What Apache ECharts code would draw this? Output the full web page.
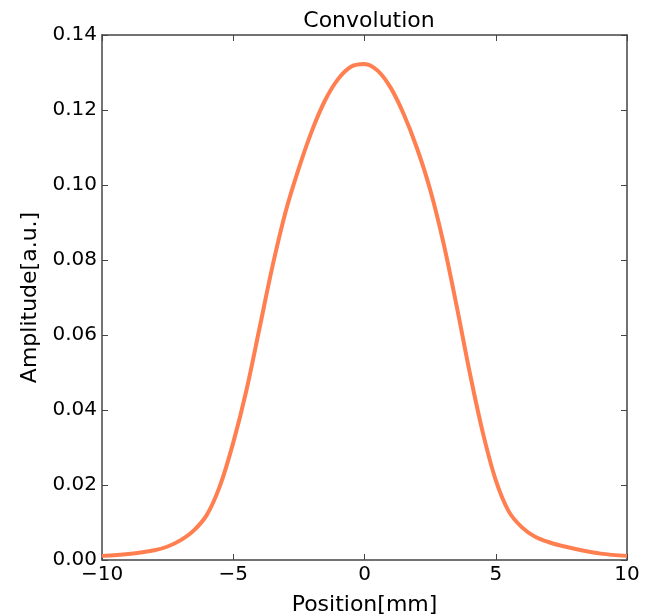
<!DOCTYPE html>
<html>
<head>
<meta charset="utf-8">
<script src="https://cdn.jsdelivr.net/npm/echarts@6/dist/echarts.min.js"></script>
<style>
  html, body { margin: 0; padding: 0; background: #fff; }
  #chart { width: 662px; height: 616px; }
</style>
</head>
<body>
<div id="chart"></div>
<script>
const positions = [-10, -9, -8, -7.5, -7, -6.5, -6, -5.5, -5, -4.5, -4, -3.5, -3, -2.5, -2, -1.5, -1, -0.5,
  0, 0.5, 1, 1.5, 2, 2.5, 3, 3.5, 4, 4.5, 5, 5.5, 6, 6.5, 7, 7.5, 8, 9, 10];
// Amplitude [a.u.]
const amplitude = [0.0011, 0.0016, 0.0026, 0.0036, 0.0053, 0.0079, 0.0121, 0.0199, 0.0313, 0.0452, 0.0618, 0.0785, 0.0930, 0.1045, 0.1145, 0.1226, 0.1283, 0.1316,
  0.1323, 0.1305, 0.1259, 0.1188, 0.1098, 0.0988, 0.0848, 0.0681, 0.0503, 0.0342, 0.0213, 0.0129, 0.0087, 0.0062, 0.0048, 0.0038, 0.0030, 0.0017, 0.0011];
const xTicks = [-10, -5, 0, 5, 10];
const yTicks = [0, 0.02, 0.04, 0.06, 0.08, 0.10, 0.12, 0.14];

const data = positions.map((x, i) => [x, amplitude[i]]);
const font = 'DejaVu Sans';
const axisColor = '#444';

const chart = echarts.init(document.getElementById('chart'), null, { renderer: 'canvas' });
const xBase = {
  type: 'value', min: xTicks[0], max: xTicks[xTicks.length - 1], interval: 5,
  axisLine: { show: true, onZero: false, lineStyle: { color: axisColor, width: 1.5 } },
  axisTick: { show: true, inside: true, length: 6, lineStyle: { color: axisColor, width: 1 } },
  splitLine: { show: false }
};
const yBase = {
  type: 'value', min: yTicks[0], max: yTicks[yTicks.length - 1], interval: 0.02,
  axisLine: { show: true, onZero: false, lineStyle: { color: axisColor, width: 1.5 } },
  axisTick: { show: true, inside: true, length: 6, lineStyle: { color: axisColor, width: 1 } },
  splitLine: { show: false }
};
chart.setOption({
  backgroundColor: '#fff',
  animation: false,
  title: {
    text: 'Convolution', left: 364, top: 5, textAlign: 'center',
    textStyle: { fontFamily: font, fontSize: 22, fontWeight: 'normal', color: '#000' }
  },
  grid: { left: 102, right: 35, top: 35, bottom: 56, containLabel: false, outerBoundsMode: 'none' },
  xAxis: [
    Object.assign({}, xBase, {
      position: 'bottom',
      name: 'Position[mm]', nameLocation: 'middle', nameGap: 34,
      nameTextStyle: { fontFamily: font, fontSize: 22, color: '#000' },
      axisLabel: { show: true, margin: 5, fontFamily: font, fontSize: 20, color: '#000',
        formatter: v => String(v).replace('-', '\u2212') }
    }),
    Object.assign({}, xBase, { position: 'top', axisLabel: { show: false } })
  ],
  yAxis: [
    Object.assign({}, yBase, {
      position: 'left',
      name: 'Amplitude[a.u.]', nameLocation: 'middle', nameGap: 55,
      nameTextStyle: { fontFamily: font, fontSize: 22, color: '#000' },
      axisLabel: { show: true, margin: 5, fontFamily: font, fontSize: 20, color: '#000',
        formatter: v => v.toFixed(2) }
    }),
    Object.assign({}, yBase, { position: 'right', axisLabel: { show: false } })
  ],
  series: [{
    type: 'line', xAxisIndex: 0, yAxisIndex: 0,
    data: data, smooth: 0.35, showSymbol: false,
    lineStyle: { color: '#ff7f50', width: 4 },
    clip: true
  }]
});
</script>
</body>
</html>
